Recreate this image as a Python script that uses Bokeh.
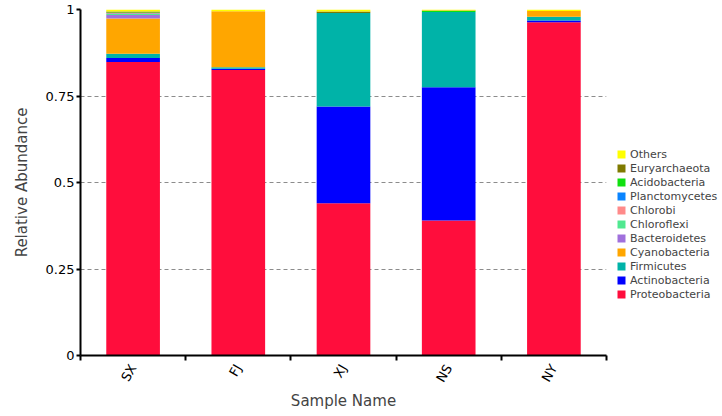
import math
from bokeh.plotting import figure
from bokeh.models import Range1d, FixedTicker, Legend, LegendItem, ColumnDataSource
from bokeh.embed import file_html
from bokeh.resources import INLINE

samples = ["SX", "FJ", "XJ", "NS", "NY"]
phyla = ["Proteobacteria", "Actinobacteria", "Firmicutes", "Cyanobacteria",
         "Bacteroidetes", "Chloroflexi", "Chlorobi", "Planctomycetes",
         "Acidobacteria", "Euryarchaeota", "Others"]
proteobacteria = [0.848, 0.825, 0.440, 0.390, 0.963]
actinobacteria = [0.012, 0.004, 0.280, 0.385, 0.005]
firmicutes     = [0.012, 0.004, 0.270, 0.218, 0.011]
cyanobacteria  = [0.102, 0.162, 0.000, 0.000, 0.017]
bacteroidetes  = [0.010, 0.000, 0.000, 0.000, 0.000]
chloroflexi    = [0.003, 0.000, 0.000, 0.000, 0.000]
chlorobi       = [0.002, 0.000, 0.000, 0.000, 0.000]
planctomycetes = [0.001, 0.000, 0.000, 0.000, 0.000]
acidobacteria  = [0.001, 0.000, 0.000, 0.003, 0.000]
euryarchaeota  = [0.003, 0.000, 0.004, 0.001, 0.000]
others         = [0.006, 0.005, 0.006, 0.003, 0.004]
colors = ["#FF0D3C", "#0000FF", "#00B3A8", "#FFA600", "#A070DC", "#50E890",
          "#FF8A8A", "#0A84FF", "#10E010", "#7F7A00", "#FFFF00"]
y_ticks = [0, 0.25, 0.5, 0.75, 1]
y_tick_labels = ["0", "0.25", "0.5", "0.75", "1"]

series = [proteobacteria, actinobacteria, firmicutes, cyanobacteria, bacteroidetes,
          chloroflexi, chlorobi, planctomycetes, acidobacteria, euryarchaeota, others]
xs = [i + 0.5 for i in range(len(samples))]
data = {"x": xs}
for name, vals in zip(phyla, series):
    data[name] = vals
source = ColumnDataSource(data)

FONT = "DejaVu Sans"

p = figure(frame_width=526, frame_height=346, output_backend="svg", toolbar_location=None,
           x_range=Range1d(0, len(samples)), y_range=Range1d(0, 1),
           min_border_left=80, min_border_right=0, min_border_top=9,
           min_border_bottom=40)
p.outline_line_color = None
p.background_fill_color = "white"

renderers = p.vbar_stack(phyla, x="x", width=0.51, color=colors, source=source,
                         line_color=None)

# x axis
p.xaxis.ticker = FixedTicker(ticks=xs, minor_ticks=list(range(len(samples) + 1)))
p.xaxis.major_label_overrides = {x: s for x, s in zip(xs, samples)}
p.xaxis.major_tick_line_color = None
p.xaxis.minor_tick_line_color = "black"
p.xaxis.minor_tick_line_width = 2
p.xaxis.minor_tick_out = 5
p.xaxis.minor_tick_in = 0
p.xaxis.major_label_orientation = math.pi / 3
p.xaxis.major_label_text_font = FONT
p.xaxis.major_label_text_font_size = "13px"
p.xaxis.major_label_text_color = "black"
p.xaxis.major_label_standoff = 4
p.xaxis.axis_label = "Sample Name"
p.xaxis.axis_label_text_font = FONT
p.xaxis.axis_label_text_font_size = "15px"
p.xaxis.axis_label_text_font_style = "normal"
p.xaxis.axis_label_standoff = 0
p.xaxis.axis_line_width = 2
p.xaxis.axis_line_color = "black"

# y axis
p.yaxis.ticker = FixedTicker(ticks=y_ticks)
p.yaxis.major_label_overrides = {t: l for t, l in zip(y_ticks, y_tick_labels)}
p.yaxis.major_tick_line_color = "black"
p.yaxis.major_tick_line_width = 2
p.yaxis.major_tick_out = 4
p.yaxis.major_tick_in = 0
p.yaxis.minor_tick_line_color = None
p.yaxis.major_label_text_font = FONT
p.yaxis.major_label_text_font_size = "13px"
p.yaxis.major_label_text_color = "black"
p.yaxis.major_label_standoff = 2
p.yaxis.axis_label = "Relative Abundance"
p.yaxis.axis_label_text_font = FONT
p.yaxis.axis_label_text_font_size = "15px"
p.yaxis.axis_label_text_font_style = "normal"
p.yaxis.axis_label_standoff = 12
p.yaxis.axis_line_width = 2
p.yaxis.axis_line_color = "black"

# grid
p.xgrid.grid_line_color = None
p.ygrid.ticker = FixedTicker(ticks=[0.25, 0.5, 0.75])
p.ygrid.grid_line_color = "#8c8c8c"
p.ygrid.grid_line_dash = "4 3"
p.ygrid.grid_line_width = 1

items = [LegendItem(label=name, renderers=[r]) for name, r in zip(phyla, renderers)]
items.reverse()
legend = Legend(items=items, location=(10, 54), orientation="vertical",
                label_text_font=FONT, label_text_font_size="11px",
                label_height=14, glyph_height=10, glyph_width=10, spacing=0,
                padding=0, margin=0, label_standoff=4,
                border_line_color=None, background_fill_alpha=0)
p.add_layout(legend, "right")

open("out.html", "w").write(file_html(p, INLINE))
